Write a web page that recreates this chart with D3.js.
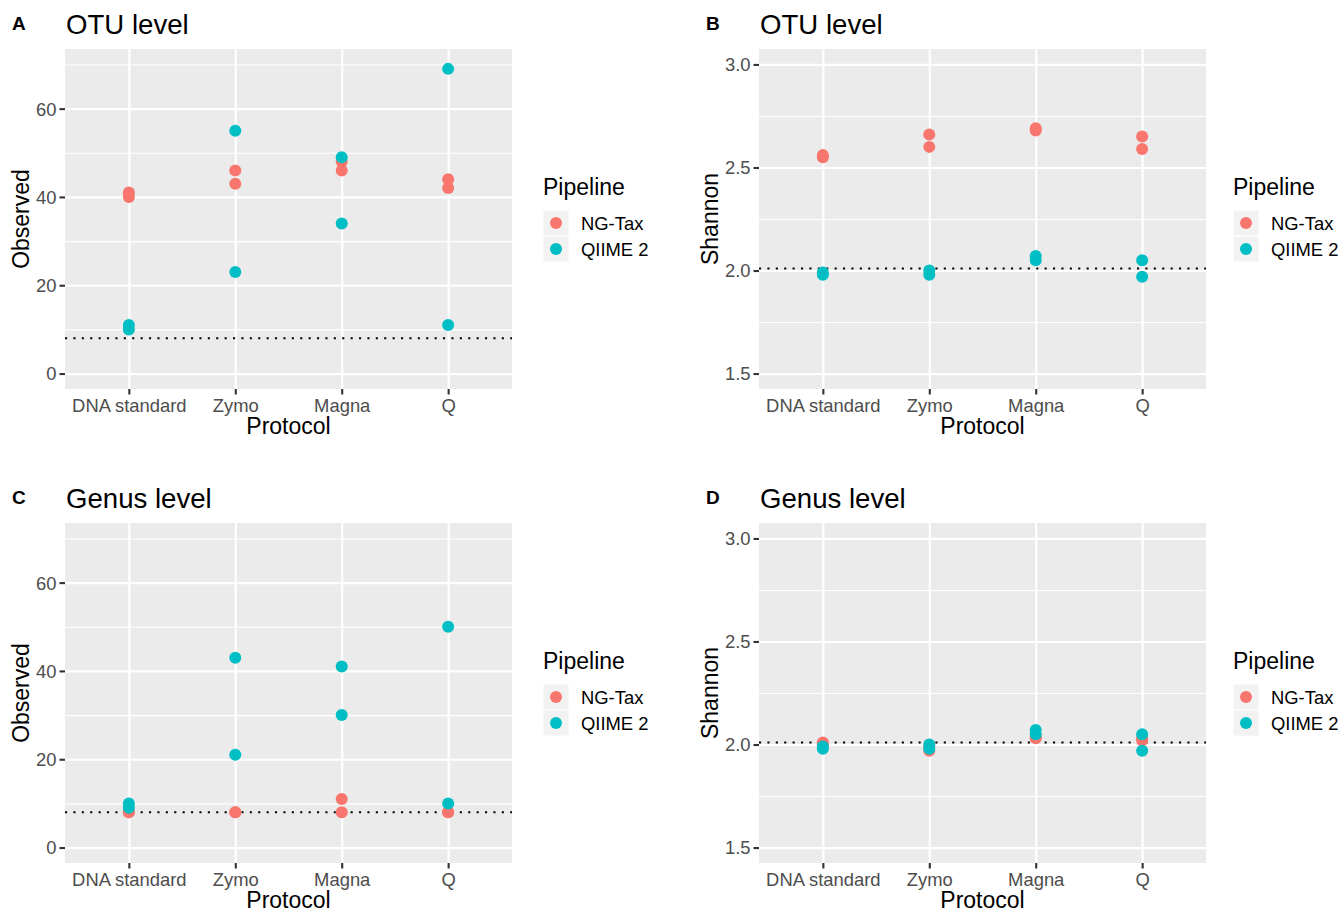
<!DOCTYPE html>
<html>
<head>
<meta charset="utf-8">
<script src="https://cdn.jsdelivr.net/npm/d3@7/dist/d3.min.js"></script>
<style>
    body { margin: 0; background: #fff; }
    svg text { font-family: 'Liberation Sans', Arial, sans-serif; }
</style>
</head>
<body>
<svg id="chart" width="1339" height="910"></svg>
<script>
const protocols = ['DNA standard', 'Zymo', 'Magna', 'Q'];
const pipelines = ['NG-Tax', 'QIIME 2'];
const pipelineColors = ['#F8766D', '#00BFC4'];

// two samples per protocol
const sampleProtocol = ['DNA standard', 'DNA standard', 'Zymo', 'Zymo', 'Magna', 'Magna', 'Q', 'Q'];

const otuObservedNG = [41, 40, 46, 43, 48, 46, 44, 42];
const otuObservedQ2 = [11, 10, 55, 23, 49, 34, 69, 11];
const otuShannonNG = [2.56, 2.55, 2.66, 2.60, 2.69, 2.68, 2.65, 2.59];
const otuShannonQ2 = [1.99, 1.98, 2.00, 1.98, 2.07, 2.05, 2.05, 1.97];
const genusObservedNG = [8, 8, 8, 8, 11, 8, 8, 8];
const genusObservedQ2 = [10, 9, 43, 21, 41, 30, 50, 10];
const genusShannonNG = [2.01, 2.00, 1.97, 1.99, 2.04, 2.03, 2.03, 2.02];
const genusShannonQ2 = [1.99, 1.98, 2.00, 1.98, 2.07, 2.05, 2.05, 1.97];

const observedLimits = [0, 70];
const shannonLimits = [1.5, 3.0];
const observedTicks = [0, 20, 40, 60];
const shannonTicks = [1.5, 2.0, 2.5, 3.0];
const observedRef = 8;
const shannonRef = 2.01;

const panels = [
    {letter: 'A', title: 'OTU level', yTitle: 'Observed', ng: otuObservedNG, q2: otuObservedQ2,
        limits: observedLimits, ticks: observedTicks, ref: observedRef, fmt: d3.format('d'), col: 0, row: 0},
    {letter: 'B', title: 'OTU level', yTitle: 'Shannon', ng: otuShannonNG, q2: otuShannonQ2,
        limits: shannonLimits, ticks: shannonTicks, ref: shannonRef, fmt: d3.format('.1f'), col: 1, row: 0},
    {letter: 'C', title: 'Genus level', yTitle: 'Observed', ng: genusObservedNG, q2: genusObservedQ2,
        limits: observedLimits, ticks: observedTicks, ref: observedRef, fmt: d3.format('d'), col: 0, row: 1},
    {letter: 'D', title: 'Genus level', yTitle: 'Shannon', ng: genusShannonNG, q2: genusShannonQ2,
        limits: shannonLimits, ticks: shannonTicks, ref: shannonRef, fmt: d3.format('.1f'), col: 1, row: 1}
];

const layout = {
    colX: [65, 759],
    rowY: [49, 523],
    width: 447,
    height: 340,
    yTitleGap: [36, 41],
    legendGap: [31, 27]
};

const svg = d3.select('#chart');

function translateElement(element, left, top) {
    return element.attr('transform', `translate(${left} ${top})`);
}

function expandLimits(limits) {
    const pad = (limits[1] - limits[0]) * 0.05;
    return [limits[0] - pad, limits[1] + pad];
}

function minorTicks(ticks, domain) {
    const step = ticks[1] - ticks[0];
    const out = [];
    for (let i = -1; i < ticks.length; i++) {
        const v = ticks[0] + step * (i + 0.5);
        if (v > domain[0] && v < domain[1]) out.push(v);
    }
    return out;
}

function drawPanel(p) {
    const x0 = layout.colX[p.col];
    const y0 = layout.rowY[p.row];
    const w = layout.width;
    const h = layout.height;
    const domain = expandLimits(p.limits);

    const xScale = d3.scalePoint().domain(protocols).range([0, w]).padding(0.6);
    const yScale = d3.scaleLinear().domain(domain).range([h, 0]);

    const g = translateElement(svg.append('g'), x0, y0);

    g.append('rect').attr('width', w).attr('height', h).attr('fill', '#EBEBEB');

    // minor grid
    const minor = g.append('g').call(d3.axisLeft(yScale).tickValues(minorTicks(p.ticks, domain))
        .tickSize(-w).tickFormat(''));
    minor.select('.domain').remove();
    minor.selectAll('line').attr('stroke', '#fff').attr('stroke-width', 1.1);

    // major grid
    const majorY = g.append('g').call(d3.axisLeft(yScale).tickValues(p.ticks).tickSize(-w).tickFormat(''));
    majorY.select('.domain').remove();
    majorY.selectAll('line').attr('stroke', '#fff').attr('stroke-width', 2.2);

    const majorX = translateElement(g.append('g'), 0, h)
        .call(d3.axisBottom(xScale).tickSize(-h).tickFormat(''));
    majorX.select('.domain').remove();
    majorX.selectAll('line').attr('stroke', '#fff').attr('stroke-width', 2.2);

    // reference line
    g.append('line')
        .attr('x1', 0).attr('x2', w)
        .attr('y1', yScale(p.ref)).attr('y2', yScale(p.ref))
        .attr('stroke', '#000').attr('stroke-width', 2.1)
        .attr('stroke-dasharray', '2.1,6.3');

    // points: NG-Tax first, QIIME 2 on top
    [p.ng, p.q2].forEach((values, i) => {
        g.append('g').selectAll('circle').data(values).enter().append('circle')
            .attr('cx', (d, j) => xScale(sampleProtocol[j]))
            .attr('cy', (d) => yScale(d))
            .attr('r', 6)
            .attr('fill', pipelineColors[i]);
    });

    // axes
    const yAxis = g.append('g').call(d3.axisLeft(yScale).tickValues(p.ticks).tickFormat(p.fmt)
        .tickSize(5.5).tickPadding(3));
    yAxis.select('.domain').remove();
    yAxis.selectAll('line').attr('stroke', '#333').attr('stroke-width', 2.1);
    yAxis.selectAll('text').attr('fill', '#4D4D4D').style('font-size', '18.4px')
        .attr('dy', '0.35em');

    const xAxis = translateElement(g.append('g'), 0, h)
        .call(d3.axisBottom(xScale).tickSize(5.5).tickPadding(4));
    xAxis.select('.domain').remove();
    xAxis.selectAll('line').attr('stroke', '#333').attr('stroke-width', 2.1);
    xAxis.selectAll('text').attr('fill', '#4D4D4D').style('font-size', '18.4px')
        .attr('dy', '0.71em');

    // titles
    g.append('text').text('Protocol')
        .attr('x', w / 2).attr('y', h + 45)
        .attr('text-anchor', 'middle').style('font-size', '23px').attr('fill', '#000');

    g.append('text').text(p.yTitle)
        .attr('transform', `translate(${-layout.yTitleGap[p.col]} ${h / 2}) rotate(-90)`)
        .attr('text-anchor', 'middle').style('font-size', '23px').attr('fill', '#000');

    g.append('text').text(p.title)
        .attr('x', 1).attr('y', -15)
        .style('font-size', '27.6px').attr('fill', '#000');

    g.append('text').text(p.letter)
        .attr('x', -53).attr('y', -19)
        .style('font-size', '19px').style('font-weight', 'bold').attr('fill', '#000');

    // legend
    const lg = translateElement(g.append('g'), w + layout.legendGap[p.col], 0);
    lg.append('text').text('Pipeline').attr('x', 0).attr('y', 146)
        .style('font-size', '23px').attr('fill', '#000');
    pipelines.forEach((name, i) => {
        const ky = 161 + i * 26;
        lg.append('rect').attr('x', 0).attr('y', ky).attr('width', 26).attr('height', 26)
            .attr('fill', '#F2F2F2').attr('stroke', '#fff').attr('stroke-width', 1);
        lg.append('circle').attr('cx', 13).attr('cy', ky + 13).attr('r', 6)
            .attr('fill', pipelineColors[i]);
        lg.append('text').text(name).attr('x', 38).attr('y', ky + 19.5)
            .style('font-size', '18.4px').attr('fill', '#000');
    });
}

panels.forEach(drawPanel);
</script>
</body>
</html>
